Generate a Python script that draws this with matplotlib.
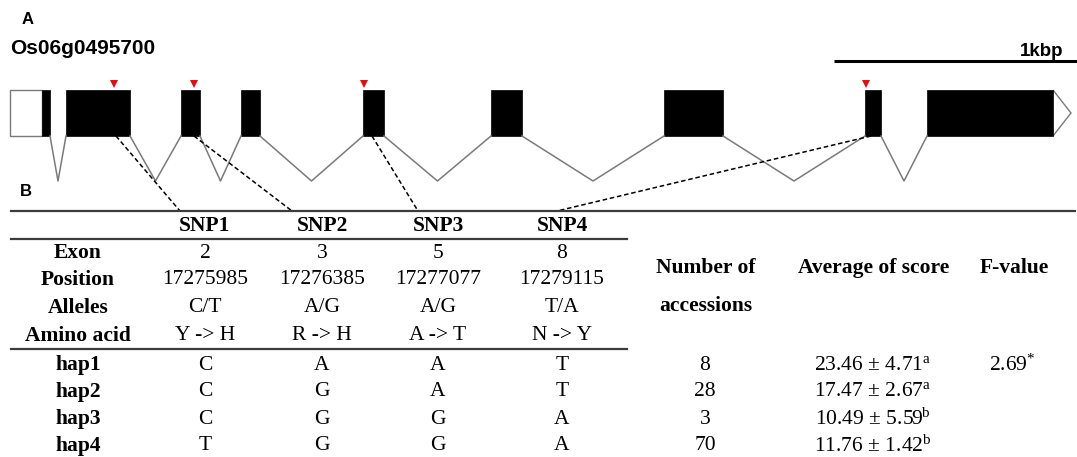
import matplotlib.pyplot as plt
from matplotlib.patches import Rectangle, Polygon

plt.rcParams["mathtext.fontset"] = "custom"
plt.rcParams["mathtext.rm"] = "Liberation Serif"
plt.rcParams["mathtext.it"] = "Liberation Serif:italic"
plt.rcParams["mathtext.bf"] = "Liberation Serif:bold"

# gene model, in drawing units (1 kbp = 243 units)
gene_name = "Os06g0495700"
utr5 = (10, 42)
exon_start = [42, 66, 181, 241, 363, 491, 664, 865, 927]
exon_end = [50, 130, 200, 260, 384, 522, 723, 881, 1053]
utr3_tip = 1071
scale_bar = (834, 1077)
scale_label = "1kbp"

# SNP marks on the gene and where their links meet the table
snp_mark_x = [114, 194, 364, 866]
snp_link_from = [116, 194, 372, 871]
snp_link_to = [180, 292, 418, 557]

# table B
snp_names = ["SNP1", "SNP2", "SNP3", "SNP4"]
row_labels = ["Exon", "Position", "Alleles", "Amino acid"]
snp_exon = ["2", "3", "5", "8"]
snp_position = ["17275985", "17276385", "17277077", "17279115"]
snp_alleles = ["C/T", "A/G", "A/G", "T/A"]
snp_amino = ["Y -> H", "R -> H", "A -> T", "N -> Y"]
haplotypes = ["hap1", "hap2", "hap3", "hap4"]
hap_alleles = [["C", "A", "A", "T"],
               ["C", "G", "A", "T"],
               ["C", "G", "G", "A"],
               ["T", "G", "G", "A"]]
n_accessions = [8, 28, 3, 70]
score_mean = [23.46, 17.47, 10.49, 11.76]
score_se = [4.71, 2.67, 5.59, 1.42]
score_group = ["a", "a", "b", "b"]
f_value = "2.69"

W, H = 1077, 457
fig = plt.figure(figsize=(W / 100, H / 100), dpi=100)
ax = fig.add_axes([0, 0, 1, 1])
ax.set_xlim(0, W)
ax.set_ylim(H, 0)
ax.axis("off")

sans = "Liberation Sans"
serif = "Liberation Serif"
grey = "#7a7a7a"

# ---- panel A: gene structure ----
top, bot, dip = 90, 136, 181
ax.text(22, 20, "A", fontsize=12, fontweight="bold", family=sans, va="center")
ax.text(10, 49, gene_name, fontsize=15, fontweight="bold", family=sans, va="center")
ax.plot(scale_bar, [61, 61], color="black", lw=2.2, solid_capstyle="butt")
ax.text(1063, 52, scale_label, fontsize=13.5, fontweight="bold", family=sans,
        ha="right", va="center")

ax.add_patch(Rectangle((utr5[0], top), utr5[1] - utr5[0], bot - top,
                       facecolor="white", edgecolor=grey, lw=1.0))
ax.add_patch(Polygon([(exon_end[-1], top), (utr3_tip, (top + bot) / 2),
                      (exon_end[-1], bot)], closed=False,
                     facecolor="white", edgecolor=grey, lw=1.0))
for s, e in zip(exon_start, exon_end):
    ax.add_patch(Rectangle((s, top), e - s, bot - top, facecolor="black",
                           edgecolor="black", lw=0.5))
for e, s in zip(exon_end[:-1], exon_start[1:]):
    ax.plot([e, (e + s) / 2, s], [bot, dip, bot], color=grey, lw=1.1)

ax.plot(snp_mark_x, [84] * len(snp_mark_x), "v", color="#e01010",
        markersize=6, markeredgewidth=0)

for x0, x1 in zip(snp_link_from, snp_link_to):
    ax.plot([x0, x1], [bot, 211], color="black", lw=1.1, ls=(0, (3, 1.8)))

# ---- panel B: haplotype table ----
ax.text(20, 192, "B", fontsize=12, fontweight="bold", family=sans, va="center")
line_c = "#3c3c3c"
ax.plot([11, 1075], [211, 211], color=line_c, lw=1.6)
ax.plot([11, 627], [239, 239], color=line_c, lw=1.6)
ax.plot([11, 627], [349, 349], color=line_c, lw=1.6)

lab_x = 78
col_x = [205, 322, 438, 562]
fs = 15.5
row_y = [253, 280, 308, 336]
hap_y = [365, 392, 419, 446]

for cx, name in zip(col_x, snp_names):
    ax.text(cx, 226, name, fontsize=fs, fontweight="bold", family=serif,
            ha="center", va="center")
for ry, lab, vals in zip(row_y, row_labels,
                         [snp_exon, snp_position, snp_alleles, snp_amino]):
    ax.text(lab_x, ry, lab, fontsize=fs, fontweight="bold", family=serif,
            ha="center", va="center")
    for cx, v in zip(col_x, vals):
        ax.text(cx, ry, v, fontsize=fs, family=serif, ha="center", va="center")

ax.text(706, 268, "Number of", fontsize=fs, fontweight="bold", family=serif,
        ha="center", va="center")
ax.text(706, 306, "accessions", fontsize=fs, fontweight="bold", family=serif,
        ha="center", va="center")
ax.text(874, 268, "Average of score", fontsize=fs, fontweight="bold",
        family=serif, ha="center", va="center")
ax.text(1014, 268, "F-value", fontsize=fs, fontweight="bold", family=serif,
        ha="center", va="center")

for hy, hap, alle, n, m, se, g in zip(hap_y, haplotypes, hap_alleles,
                                      n_accessions, score_mean, score_se,
                                      score_group):
    ax.text(lab_x, hy, hap, fontsize=fs, fontweight="bold", family=serif,
            ha="center", va="center")
    for cx, a in zip(col_x, alle):
        ax.text(cx, hy, a, fontsize=fs, family=serif, ha="center", va="center")
    ax.text(705, hy, str(n), fontsize=fs, family=serif, ha="center", va="center")
    ax.text(873, hy, f"{m:.2f} ± {se:.2f}$^{{\\mathrm{{{g}}}}}$", fontsize=fs,
            family=serif, ha="center", va="center")

ax.text(1012, hap_y[0], f_value + "$^{*}$", fontsize=fs, family=serif,
        ha="center", va="center")

fig.savefig("out.png", dpi=100)
